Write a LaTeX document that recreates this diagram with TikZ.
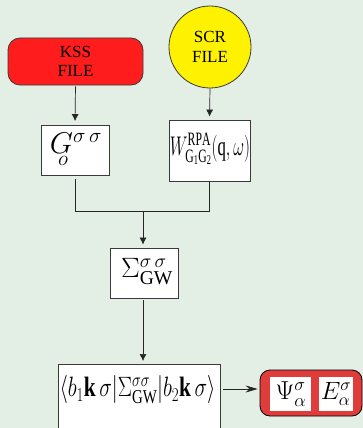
\RequirePackage{fix-cm}
\documentclass[tikz,border=0pt]{standalone}
\usepackage{fontspec}
\setmainfont{Liberation Serif}
\usetikzlibrary{arrows.meta}
\definecolor{bgcol}{HTML}{E3EEE5}
\definecolor{kssred}{HTML}{FF1C1C}
\definecolor{resred}{HTML}{E03C3C}
\definecolor{linecol}{HTML}{3A3A3A}
\tikzset{
  box/.style={draw=linecol, line width=0.8pt, fill=white, inner sep=0pt},
  conn/.style={draw=black!85, line width=0.7pt},
  arr/.style={conn, -{Latex[length=7pt,width=7pt]}},
  lbl/.style={font=\fontsize{17}{19.5}\selectfont, align=center, text=black}
}
\begin{document}
\begin{tikzpicture}[x=1pt,y=1pt]
\useasboundingbox (0,0) rectangle (363,-428);
\clip (0,0) rectangle (363,-428);
\fill[bgcol] (0,0) rectangle (363,-428);
% inputs
\node[draw=linecol, line width=0.8pt, fill=kssred, rounded corners=12pt, minimum width=135pt, minimum height=47pt, lbl] (kss) at (75.5,-61.5) {KSS\\FILE};
\node[draw=linecol, line width=0.8pt, fill=yellow, circle, minimum size=82pt, inner sep=0pt, lbl] (scr) at (210,-47) {SCR\\FILE};
% first boxes
\node[box, minimum width=68pt, minimum height=50pt] (g) at (75,-150) {};
\node (gtxt) at (76,-149)
  {\fontsize{30}{30}\selectfont$G^{\sigma\,\sigma}_{\kern-15pt\raisebox{-5pt}{$\scriptstyle o$}}$};
\node[box, minimum width=81pt, minimum height=61pt] (w) at (209.5,-150.5) {};
\node (wtxt) at (210,-149)
  {\scalebox{0.62}[1]{\fontsize{27}{27}\selectfont$W^{\mathrm{RPA}}_{\mathrm{G_1G_2}}(\mathrm{q},\omega)$}};
\node[box, minimum width=68pt, minimum height=50pt] (sig) at (144,-273) {};
\node (sigtxt) at (147,-272)
  {\fontsize{28}{28}\selectfont$\Sigma^{\sigma\,\sigma}_{\mathrm{GW}}$};
\node[box, minimum width=162pt, minimum height=80pt, anchor=north] (bot) at (139,-364) {};
\node (bottxt) at (137.5,-390)
  {\scalebox{0.76}[1]{\fontsize{28}{28}\selectfont$\big\langle b_1\mathbf{k}\,\sigma\big|\Sigma^{\sigma\sigma}_{\mathrm{GW}}\big|b_2\mathbf{k}\,\sigma\big\rangle$}};
\node[draw=black, line width=0.8pt, fill=resred, rounded corners=10pt, minimum width=102pt, minimum height=46pt, inner sep=0pt] (res) at (311,-393) {};
\node[fill=white, minimum width=41pt, minimum height=34pt, inner sep=0pt] (psi) at (290.5,-394) {};
\node (psitxt) at (291,-394) {\fontsize{26}{26}\selectfont$\Psi^{\sigma}_{\alpha}$};
\node[fill=white, minimum width=34pt, minimum height=34pt, inner sep=0pt] (en) at (336,-394) {};
\node (entxt) at (336,-394) {\fontsize{25}{25}\selectfont$E^{\sigma}_{\alpha}$};
% connectors
\draw[arr, shorten >=3.5pt, shorten <=1pt] (kss.south) -- (g.north);
\draw[arr, shorten >=3pt] (scr.south) -- (w.north);
\coordinate (jn) at (143,-211);
\draw[conn, shorten <=4pt] (g.south) |- (jn);
\draw[conn] (w.south) |- (jn);
\draw[arr, shorten >=3pt] (jn) -- (jn |- sig.north);
\draw[arr, shorten >=3pt, shorten <=2pt] (sig.south -| jn) -- (jn |- bot.north);
\coordinate (a1) at ([yshift=4pt]bot.east |- res.west);
\draw[conn, -{Stealth[length=12pt,width=7pt]}, shorten <=3pt, shorten >=2pt] (a1) -- (a1 -| res.west);
\end{tikzpicture}
\end{document}
